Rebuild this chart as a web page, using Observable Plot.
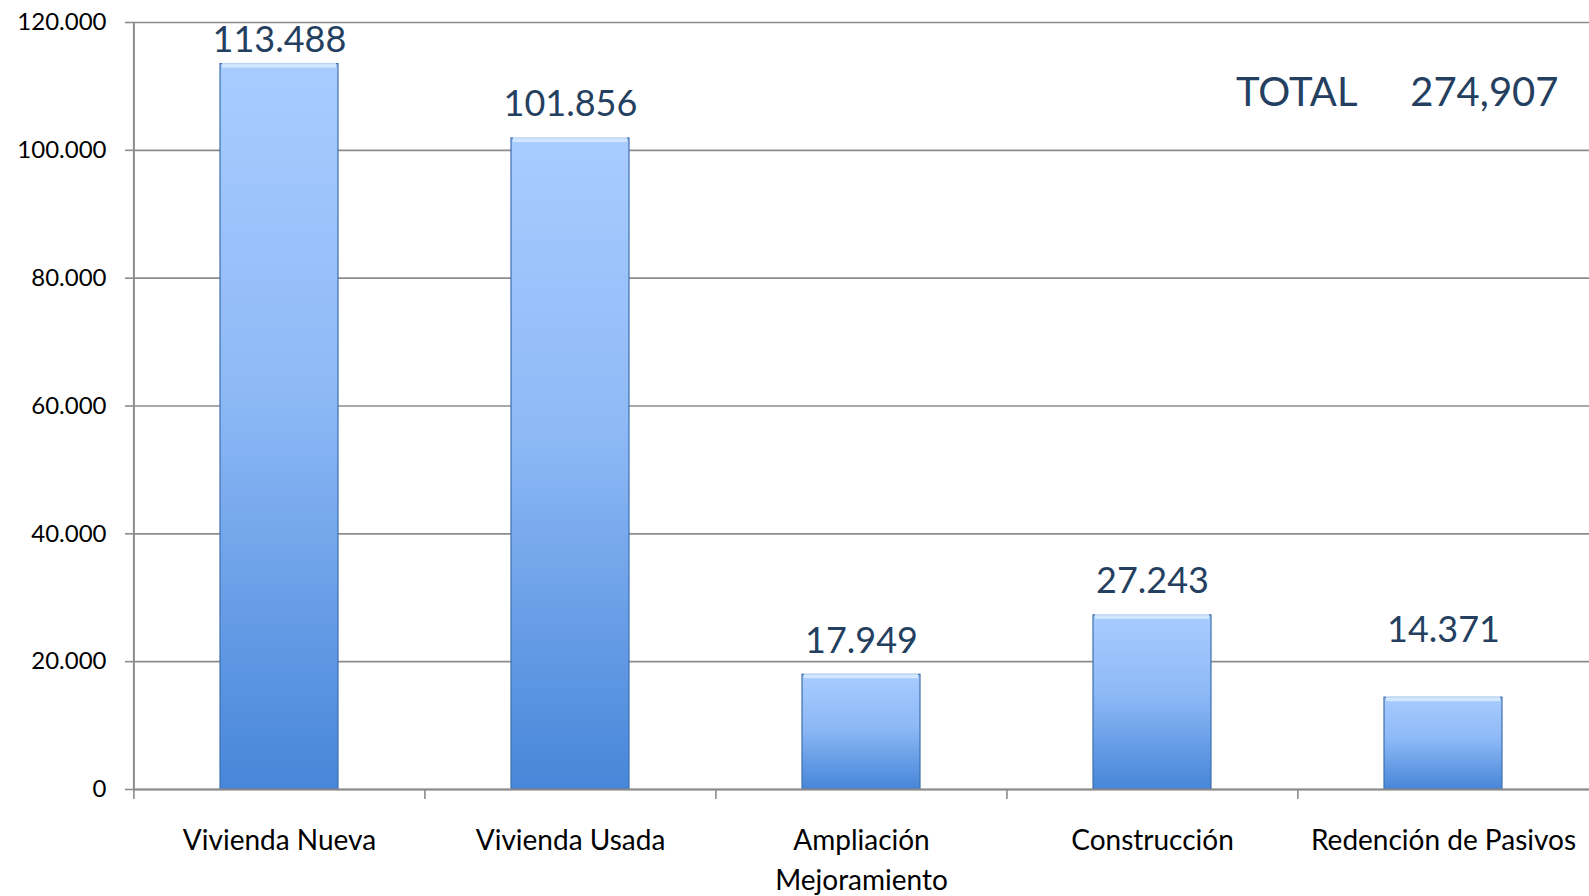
<!DOCTYPE html>
<html>
<head>
<meta charset="utf-8">
<script src="https://cdn.jsdelivr.net/npm/d3@7"></script>
<script src="https://cdn.jsdelivr.net/npm/@observablehq/plot@0.6"></script>
<style>
  html, body { margin: 0; padding: 0; background: #fff; }
  #chart svg { display: block; }
</style>
</head>
<body>
<div id="chart"></div>
<script>
const categories = ["Vivienda Nueva", "Vivienda Usada", "Ampliación\nMejoramiento", "Construcción", "Redención de Pasivos"];
const values = [113488, 101856, 17949, 27243, 14371];
// value-label anchors (data units) as placed in the reference
const labelAnchors = [111900, 101856, 17949, 27243, 19700];
const yTicks = [0, 20000, 40000, 60000, 80000, 100000, 120000];
const totalLabel = "TOTAL";

const data = categories.map((c, i) => ({category: c, value: values[i], labelAt: labelAnchors[i]}));
const total = d3.sum(values);

const esLocale = d3.formatLocale({decimal: ",", thousands: ".", grouping: [3], currency: ["$", ""]});
const fmtDot = esLocale.format(",d");
const fmtComma = d3.format(",d");

const W = 1589, H = 896;
const mL = 133, mR = 0, mT = 22, mB = 107;
const step = (W - mL - mR) / categories.length;
const gray = "#8c8c8c";

const svg = Plot.plot({
  width: W,
  height: H,
  marginLeft: mL,
  marginRight: mR,
  marginTop: mT,
  marginBottom: mB,
  style: {fontFamily: "Lato, 'Open Sans', sans-serif", background: "#fff", color: "#000"},
  x: {domain: categories, paddingInner: 0.595, paddingOuter: 0.2975, axis: null, label: null},
  y: {domain: [0, 120000], axis: null, label: null},
  marks: [
    Plot.gridY(yTicks, {stroke: gray, strokeOpacity: 1, strokeWidth: 1.6}),
    Plot.axisY({ticks: yTicks, label: null, tickSize: 8, tickPadding: 19, tickFormat: fmtDot, fontSize: 24, stroke: gray, strokeWidth: 1.6, fill: "#000"}),
    Plot.barY(data, {x: "category", y: "value", fill: "url(#barGrad)", stroke: "#3e6eae", strokeWidth: 1.2, style: "filter:url(#barShadow)"}),
    Plot.barY(data, {x: "category", y1: "value", y2: "value", insetTop: -1, insetBottom: -4, insetLeft: 2, insetRight: 2, fill: "#dcedff", fillOpacity: 0.8}),
    Plot.ruleY([0], {stroke: gray, strokeWidth: 2}),
    Plot.ruleX([categories[0]], {dx: -step / 2, stroke: gray, strokeWidth: 2}),
    Plot.axisX({label: null, tickSize: 10, tickFormat: () => "", dx: -step / 2, stroke: gray, strokeWidth: 1.6}),
    Plot.axisX({label: null, tickSize: 0, tickPadding: 33, fontSize: 28, lineHeight: 1.4, fill: "#000"}),
    Plot.text(data, {x: "category", y: "labelAt", text: d => fmtDot(d.value), lineAnchor: "bottom", dy: -22, fontSize: 36, fill: "#243f60"}),
    Plot.text([fmtComma(total)], {frameAnchor: "top-right", text: d => d, textAnchor: "end", lineAnchor: "top", dx: -31, dy: 55, fontSize: 40, fill: "#243f60"}),
    Plot.text([totalLabel], {frameAnchor: "top-right", text: d => d, textAnchor: "end", lineAnchor: "top", dx: -232, dy: 55, fontSize: 40, fill: "#243f60"})
  ]
});

const defs = d3.select(svg).insert("defs", ":first-child");
const g = defs.append("linearGradient").attr("id", "barGrad").attr("x1", 0).attr("y1", 0).attr("x2", 0).attr("y2", 1);
g.append("stop").attr("offset", "0%").attr("stop-color", "#a8ccff");
g.append("stop").attr("offset", "45%").attr("stop-color", "#8eb9f6");
g.append("stop").attr("offset", "100%").attr("stop-color", "#4786d9");
const f = defs.append("filter").attr("id", "barShadow").attr("x", "-10%").attr("y", "-10%").attr("width", "130%").attr("height", "120%");
f.append("feDropShadow").attr("dx", 3).attr("dy", 1).attr("stdDeviation", 2).attr("flood-color", "#000").attr("flood-opacity", 0.22);

document.getElementById("chart").appendChild(svg);
</script>
</body>
</html>
